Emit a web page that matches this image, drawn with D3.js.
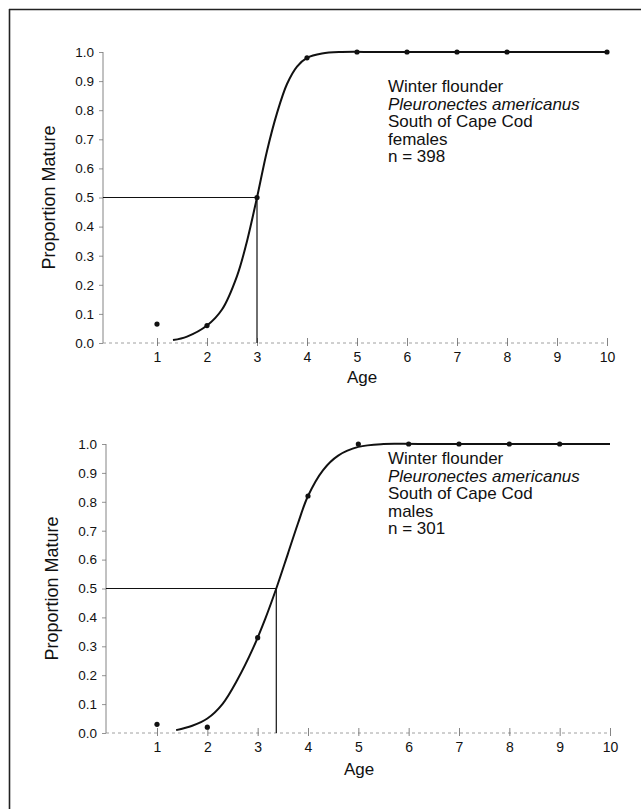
<!DOCTYPE html>
<html>
<head>
<meta charset="utf-8">
<script src="https://cdn.jsdelivr.net/npm/d3@7"></script>
<style>
  html, body { margin: 0; padding: 0; background: #fff; }
  svg { display: block; }
  text { font-family: "Liberation Sans", Arial, Helvetica, sans-serif; fill: #111; }
</style>
</head>
<body>
<script>
// ---------- DATA ----------
const ageTicks = [1, 2, 3, 4, 5, 6, 7, 8, 9, 10];
const propTicks = [0.0, 0.1, 0.2, 0.3, 0.4, 0.5, 0.6, 0.7, 0.8, 0.9, 1.0];

// Females (top panel)
const femaleAges = [1, 2, 3, 4, 5, 6, 7, 8, 10];
const femaleProp = [0.065, 0.06, 0.50, 0.98, 1.0, 1.0, 1.0, 1.0, 1.0];
const femaleCurveAge = [1.32, 1.6, 2.0, 2.3, 2.6, 2.8, 3.0, 3.2, 3.4, 3.6, 3.8, 4.0, 4.3, 4.7, 5.5, 10];
const femaleCurveP   = [0.01, 0.022, 0.06, 0.115, 0.23, 0.35, 0.50, 0.66, 0.79, 0.89, 0.95, 0.98, 0.995, 1.0, 1.0, 1.0];
const femaleA50 = 3.0;
const femaleLegend = ["Winter flounder", "Pleuronectes americanus", "South of Cape Cod", "females", "n = 398"];

// Males (bottom panel)
const maleAges = [1, 2, 3, 4, 5, 6, 7, 8, 9];
const maleProp = [0.03, 0.02, 0.33, 0.82, 1.0, 1.0, 1.0, 1.0, 1.0];
const maleCurveAge = [1.38, 1.7, 2.0, 2.3, 2.6, 2.9, 3.15, 3.37, 3.6, 3.8, 4.0, 4.3, 4.6, 5.0, 5.5, 6.2, 10];
const maleCurveP   = [0.01, 0.025, 0.05, 0.10, 0.185, 0.29, 0.395, 0.50, 0.62, 0.725, 0.82, 0.91, 0.96, 0.99, 1.0, 1.0, 1.0];
const maleA50 = 3.37;
const maleLegend = ["Winter flounder", "Pleuronectes americanus", "South of Cape Cod", "males", "n = 301"];

// ---------- DRAW ----------
const W = 641, H = 809;
const svg = d3.select("body").append("svg").attr("width", W).attr("height", H);

// page frame (top and left rule)
svg.append("line").attr("x1", 9).attr("x2", W).attr("y1", 9.5).attr("y2", 9.5)
  .attr("stroke", "#222").attr("stroke-width", 1.6);
svg.append("line").attr("x1", 9.5).attr("x2", 9.5).attr("y1", 9).attr("y2", H)
  .attr("stroke", "#222").attr("stroke-width", 1.6);

function panel(cfg) {
  const x = d3.scaleLinear().domain([1, 10]).range(cfg.xr);
  const y = d3.scaleLinear().domain([0, 1]).range(cfg.yr);
  const g = svg.append("g");

  // y axis
  const yAxis = d3.axisLeft(y).tickValues(propTicks).tickFormat(d3.format(".1f")).tickSize(4).tickPadding(5);
  const ya = g.append("g").attr("transform", `translate(${cfg.axisX},0)`).call(yAxis);
  ya.select(".domain").attr("stroke", "#666").attr("stroke-width", 0.8)
    .attr("d", `M0,${y(0)}V${y(1)}`);
  ya.selectAll(".tick line").attr("stroke", "#777").attr("stroke-width", 0.8);
  ya.selectAll(".tick text").style("font-size", "13.5px").attr("fill", "#111");

  // x axis
  const xAxis = d3.axisBottom(x).tickValues(ageTicks).tickFormat(d3.format("d")).tickSize(-5).tickPadding(9);
  const xa = g.append("g").attr("transform", `translate(0,${y(0)})`).call(xAxis);
  xa.select(".domain").attr("stroke", "#888").attr("stroke-width", 0.8)
    .attr("stroke-dasharray", "3,3")
    .attr("d", `M${cfg.axisX},0H${x(10)}`);
  xa.selectAll(".tick line").attr("stroke", "#666").attr("stroke-width", 0.8).attr("y1", 3);
  xa.selectAll(".tick text").style("font-size", "14px").attr("fill", "#111");

  // axis titles
  g.append("text").attr("transform", `translate(${cfg.axisX - 54},${y(0.5)}) rotate(-90)`)
    .attr("text-anchor", "middle").attr("dominant-baseline", "central")
    .style("font-size", "18px").text("Proportion Mature");
  g.append("text").attr("x", cfg.ageX).attr("y", y(0) + cfg.ageDy)
    .attr("text-anchor", "middle").attr("dominant-baseline", "central")
    .style("font-size", "17px").text("Age");

  // reference lines at 50% maturity
  g.append("path")
    .attr("d", `M${cfg.axisX},${y(0.5)}H${x(cfg.a50)}V${y(0)}`)
    .attr("fill", "none").attr("stroke", "#111").attr("stroke-width", 1.2);

  // fitted curve
  const line = d3.line().x(d => x(d[0])).y(d => y(d[1])).curve(d3.curveCatmullRom.alpha(0.5));
  g.append("path").datum(d3.zip(cfg.cAge, cfg.cP))
    .attr("d", line).attr("fill", "none").attr("stroke", "#111").attr("stroke-width", 2);

  // observed points
  g.selectAll("circle.pt").data(d3.zip(cfg.ages, cfg.prop)).join("circle")
    .attr("class", "pt").attr("cx", d => x(d[0])).attr("cy", d => y(d[1]))
    .attr("r", 2.6).attr("fill", "#111");

  // legend text
  const lg = g.append("text").attr("x", cfg.legX).attr("y", cfg.legY).style("font-size", "17px");
  cfg.legend.forEach((t, i) => {
    lg.append("tspan").attr("x", cfg.legX).attr("dy", i === 0 ? 0 : 17.5)
      .style("font-style", i === 1 ? "italic" : "normal").text(t);
  });
}

panel({
  xr: [157, 607], yr: [343, 52], axisX: 103, ageX: 362, ageDy: 34,
  ages: femaleAges, prop: femaleProp, cAge: femaleCurveAge, cP: femaleCurveP, a50: femaleA50,
  legend: femaleLegend, legX: 388, legY: 92
});
panel({
  xr: [157, 610], yr: [733, 444], axisX: 106, ageX: 359, ageDy: 36,
  ages: maleAges, prop: maleProp, cAge: maleCurveAge, cP: maleCurveP, a50: maleA50,
  legend: maleLegend, legX: 388, legY: 464
});
</script>
</body>
</html>
